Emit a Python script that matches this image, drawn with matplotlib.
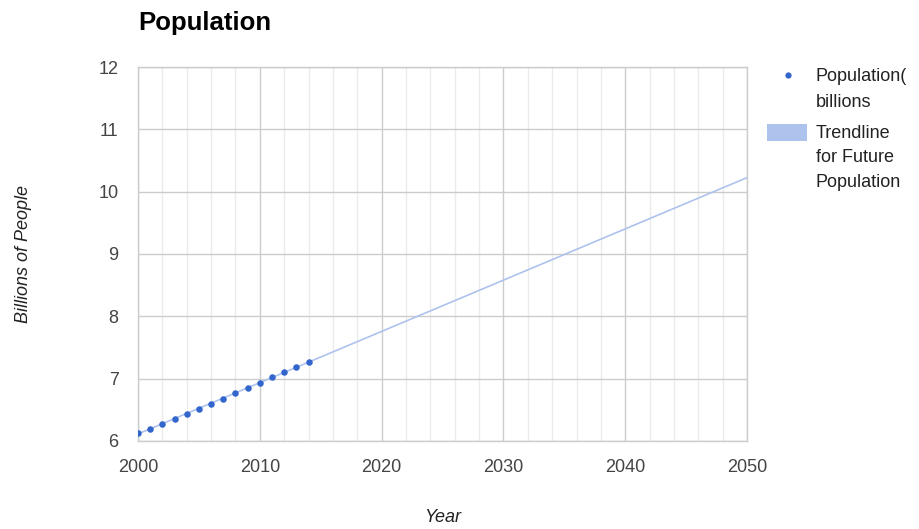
import numpy as np
import matplotlib
matplotlib.use("Agg")
import matplotlib.pyplot as plt
from matplotlib.lines import Line2D
from matplotlib.patches import Rectangle
from matplotlib.ticker import MultipleLocator

plt.rcParams['font.family'] = ['Liberation Sans', 'DejaVu Sans']

years = [2000, 2001, 2002, 2003, 2004, 2005, 2006, 2007,
         2008, 2009, 2010, 2011, 2012, 2013, 2014]
population = [6.12, 6.20, 6.28, 6.36, 6.44, 6.52, 6.60, 6.68,
              6.77, 6.85, 6.93, 7.02, 7.10, 7.19, 7.27]
trend_years = [2000, 2050]
x_ticks = [2000, 2010, 2020, 2030, 2040, 2050]
y_ticks = [6, 7, 8, 9, 10, 11, 12]
series_label = ['Population(', 'billions']
trend_label = ['Trendline', 'for Future', 'Population']

point_color = '#3366cc'
trend_color = '#aec2ee'
W, H = 920, 529

fig = plt.figure(figsize=(W / 100, H / 100), dpi=100)
ax = fig.add_axes([0.15, 0.1664, 0.662, 0.7069])

# Linear trendline fitted to the observed points
slope, intercept = np.polyfit(years, population, 1)
tx = np.array(trend_years, dtype=float)
ax.plot(tx, slope * tx + intercept, color=trend_color, lw=1.2, zorder=2)
ax.scatter(years, population, s=22, color=point_color, zorder=3, linewidths=0)

ax.set_xlim(2000, 2050)
ax.set_ylim(6, 12)
ax.set_xticks(x_ticks)
ax.set_yticks(y_ticks)
ax.xaxis.set_minor_locator(MultipleLocator(2))
ax.grid(which='major', color='#cccccc', lw=1.0, zorder=0)
ax.grid(which='minor', axis='x', color='#ebebeb', lw=1.0, zorder=0)
ax.set_axisbelow(True)
for s in ax.spines.values():
    s.set_color('#cccccc')
    s.set_linewidth(1.0)
ax.tick_params(which='both', length=0, labelsize=13, colors='#444444')
ax.tick_params(axis='x', pad=13)
ax.tick_params(axis='y', pad=14)

ax.set_xlabel('Year', fontsize=13, style='italic', color='#222222', labelpad=24)
ax.set_ylabel('Billions of People', fontsize=13, style='italic', color='#222222', labelpad=48)

fig.text(0.15, 1 - 30 / H, 'Population', fontsize=18.5, fontweight='bold',
         color='#000000', ha='left', va='baseline')


def fx(px):
    return px / W


def fy(py):
    return 1 - py / H


# Legend, drawn in figure pixel positions
fig.add_artist(Line2D([fx(788)], [fy(74.5)], transform=fig.transFigure,
                      marker='o', linestyle='none', markersize=4.5,
                      markerfacecolor=point_color, markeredgewidth=0))
for i, line in enumerate(series_label):
    fig.text(fx(816), fy(81 + 26 * i), line, fontsize=13, color='#222222',
             ha='left', va='baseline')

fig.add_artist(Rectangle((fx(767), fy(141)), fx(40), 17 / H,
                         transform=fig.transFigure, facecolor=trend_color,
                         edgecolor='none'))
for i, line in enumerate(trend_label):
    fig.text(fx(816), fy(138 + 24.5 * i), line, fontsize=13, color='#222222',
             ha='left', va='baseline')

fig.savefig('out.png', dpi=100, facecolor='white')
